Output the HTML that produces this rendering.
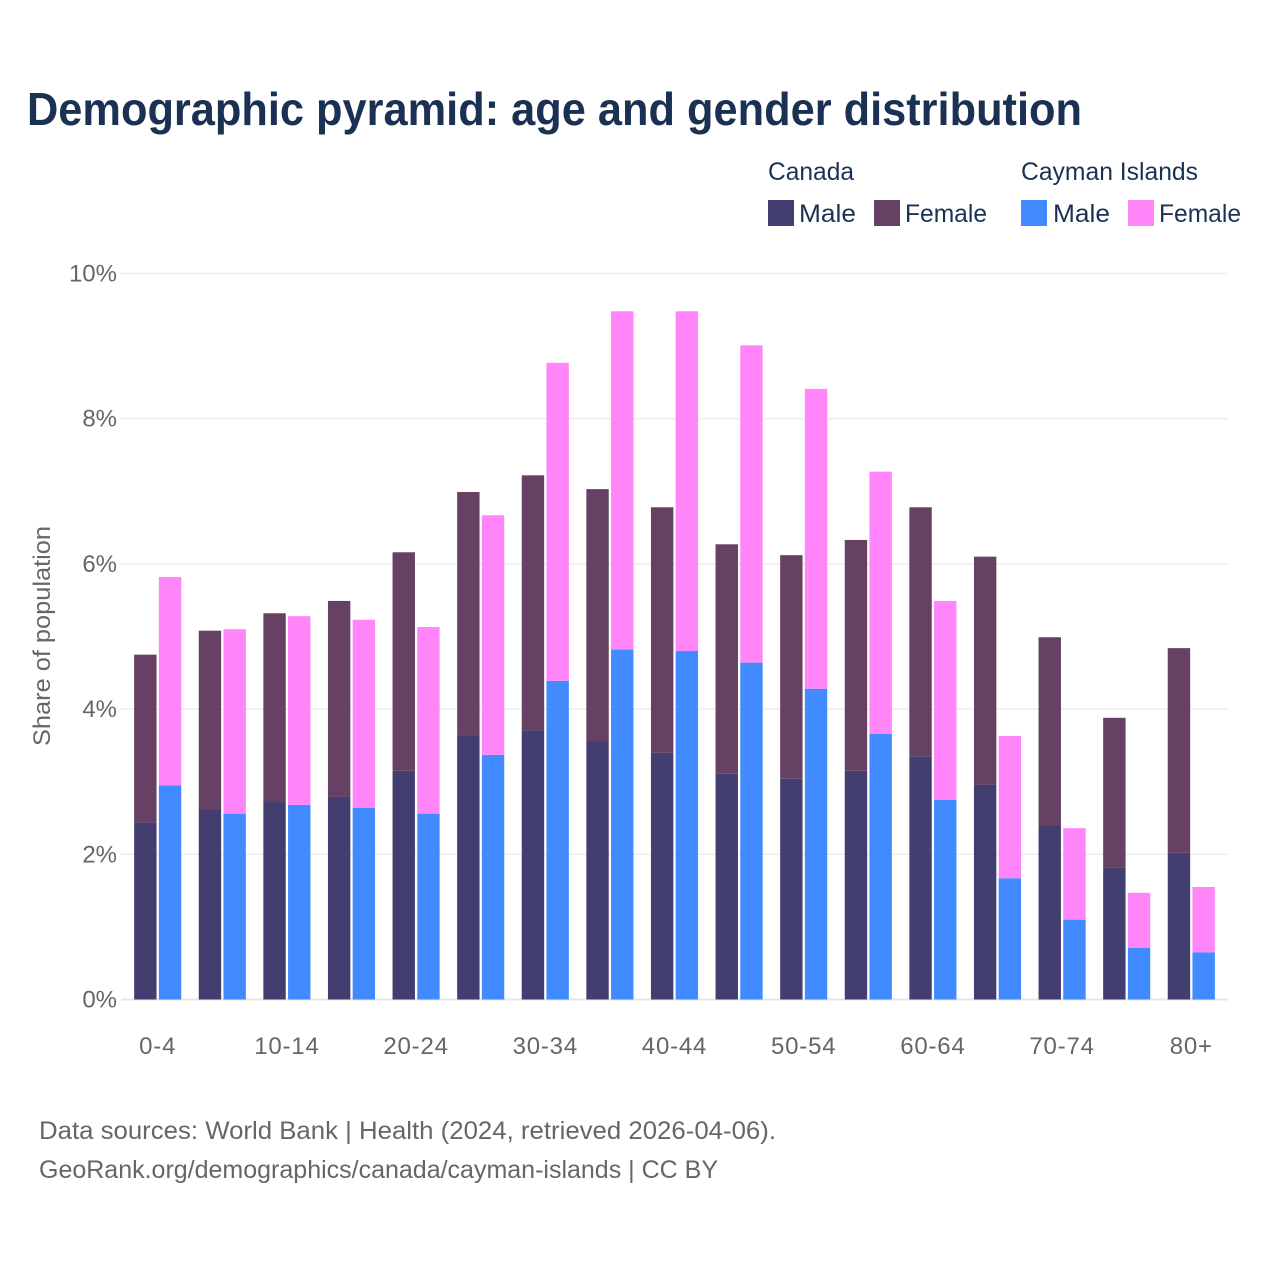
<!DOCTYPE html>
<html lang="en">
<head>
<meta charset="utf-8">
<title>Demographic pyramid: age and gender distribution</title>
<style>
html,body{margin:0;padding:0;background:#fff;}
svg{display:block;font-family:"Liberation Sans",Arial,sans-serif;}
</style>
</head>
<body>
<svg id="chart" xmlns="http://www.w3.org/2000/svg" width="1280" height="1280" viewBox="0 0 1280 1280">
  <rect x="0" y="0" width="1280" height="1280" fill="#fff"/>
  <text x="27" y="125" font-size="46" font-weight="700" fill="#1a3154" textLength="1055" lengthAdjust="spacingAndGlyphs">Demographic pyramid: age and gender distribution</text>

  <g font-size="25" fill="#1a3154">
    <text x="768" y="180" textLength="86" lengthAdjust="spacingAndGlyphs">Canada</text>
    <text x="1021" y="180" textLength="177" lengthAdjust="spacingAndGlyphs">Cayman Islands</text>
    <rect x="768" y="200" width="26" height="26" fill="#433e70"/>
    <text x="799" y="222" textLength="57" lengthAdjust="spacingAndGlyphs">Male</text>
    <rect x="874" y="200" width="26" height="26" fill="#674163"/>
    <text x="905" y="222" textLength="82" lengthAdjust="spacingAndGlyphs">Female</text>
    <rect x="1021" y="200" width="26" height="26" fill="#418aff"/>
    <text x="1053" y="222" textLength="57" lengthAdjust="spacingAndGlyphs">Male</text>
    <rect x="1128" y="200" width="26" height="26" fill="#ff85f9"/>
    <text x="1159" y="222" textLength="82" lengthAdjust="spacingAndGlyphs">Female</text>
  </g>

  <g id="grid"></g>
  <g id="y-ticks"></g>
  <g id="bars"></g>
  <g id="x-ticks"></g>

  <text transform="translate(50,636) rotate(-90)" text-anchor="middle" font-size="24" fill="#666" textLength="220" lengthAdjust="spacingAndGlyphs">Share of population</text>

  <text x="39" y="1139" font-size="25" fill="#666" textLength="737" lengthAdjust="spacingAndGlyphs">Data sources: World Bank | Health (2024, retrieved 2026-04-06).</text>
  <text x="39" y="1178" font-size="25" fill="#666" textLength="679" lengthAdjust="spacingAndGlyphs">GeoRank.org/demographics/canada/cayman-islands | CC BY</text>
</svg>
<script>
const categories = ["0-4","5-9","10-14","15-19","20-24","25-29","30-34","35-39","40-44","45-49","50-54","55-59","60-64","65-69","70-74","75-79","80+"];
const canadaMale = [2.44,2.61,2.72,2.79,3.15,3.63,3.71,3.56,3.40,3.11,3.04,3.15,3.35,2.96,2.39,1.82,2.02];
const canadaFemale = [2.31,2.47,2.60,2.70,3.01,3.36,3.51,3.47,3.38,3.16,3.08,3.18,3.43,3.14,2.60,2.06,2.82];
const caymanMale = [2.95,2.56,2.68,2.64,2.56,3.37,4.39,4.82,4.80,4.64,4.28,3.66,2.75,1.67,1.10,0.71,0.65];
const caymanFemale = [2.87,2.54,2.60,2.59,2.57,3.30,4.38,4.66,4.68,4.37,4.13,3.61,2.74,1.96,1.26,0.76,0.90];
const yTickValues = [0,2,4,6,8,10];
const xTickLabels = ["0-4","10-14","20-24","30-34","40-44","50-54","60-64","70-74","80+"];

const NS = "http://www.w3.org/2000/svg";
const Y0 = 999.5, PX_PER_UNIT = 72.6;
const GROUP0 = 157.7, STEP = 64.6, BAR_W = 22.4, BAR_OFFSET = 1.15;
const GRID_L = 121, GRID_R = 1228;

function yScale(v){ return Y0 - v * PX_PER_UNIT; }
function xCenter(i){ return GROUP0 + i * STEP; }

function makeRect(parent, x, y, w, h, fill){
  const r = document.createElementNS(NS, "rect");
  r.setAttribute("x", x.toFixed(2));
  r.setAttribute("y", y.toFixed(2));
  r.setAttribute("width", w.toFixed(2));
  r.setAttribute("height", h.toFixed(2));
  r.setAttribute("fill", fill);
  parent.appendChild(r);
  return r;
}

const gridG = document.getElementById("grid");
const yTickG = document.getElementById("y-ticks");
yTickValues.forEach(function(v){
  const line = document.createElementNS(NS, "line");
  
  
  line.setAttribute("x1", GRID_L);
  line.setAttribute("x2", GRID_R);
  line.setAttribute("y1", yScale(v));
  line.setAttribute("y2", yScale(v));
  line.setAttribute("stroke", v === 0 ? "#e6e6e6" : "#ececec");
  line.setAttribute("stroke-width", v === 0 ? 2 : 1.4);
  gridG.appendChild(line);
  const t = document.createElementNS(NS, "text");
  
  
  t.setAttribute("x", 117);
  t.setAttribute("y", yScale(v) + 8);
  t.setAttribute("text-anchor", "end");
  t.setAttribute("font-size", 24);
  t.setAttribute("fill", "#666");
  t.textContent = v + "%";
  yTickG.appendChild(t);
});

const barsG = document.getElementById("bars");
categories.forEach(function(cat, i){
  const c = xCenter(i);
  const leftX = c - BAR_OFFSET - BAR_W;
  const rightX = c + BAR_OFFSET;

  const cm = makeRect(barsG, leftX, yScale(canadaMale[i]), BAR_W, canadaMale[i] * PX_PER_UNIT, "#433e70");
  
  

  const cf = makeRect(barsG, leftX, yScale(canadaMale[i] + canadaFemale[i]), BAR_W, canadaFemale[i] * PX_PER_UNIT, "#674163");
  
  

  const km = makeRect(barsG, rightX, yScale(caymanMale[i]), BAR_W, caymanMale[i] * PX_PER_UNIT, "#418aff");
  
  

  const kf = makeRect(barsG, rightX, yScale(caymanMale[i] + caymanFemale[i]), BAR_W, caymanFemale[i] * PX_PER_UNIT, "#ff85f9");
  
  
});

const xTickG = document.getElementById("x-ticks");
xTickLabels.forEach(function(label){
  const t = document.createElementNS(NS, "text");
  
  
  t.setAttribute("x", xCenter(categories.indexOf(label)));
  t.setAttribute("y", 1054);
  t.setAttribute("text-anchor", "middle");
  t.setAttribute("font-size", 24);
  t.setAttribute("letter-spacing", "0.8");
  t.setAttribute("fill", "#666");
  t.textContent = label;
  xTickG.appendChild(t);
});
</script>
</body>
</html>
